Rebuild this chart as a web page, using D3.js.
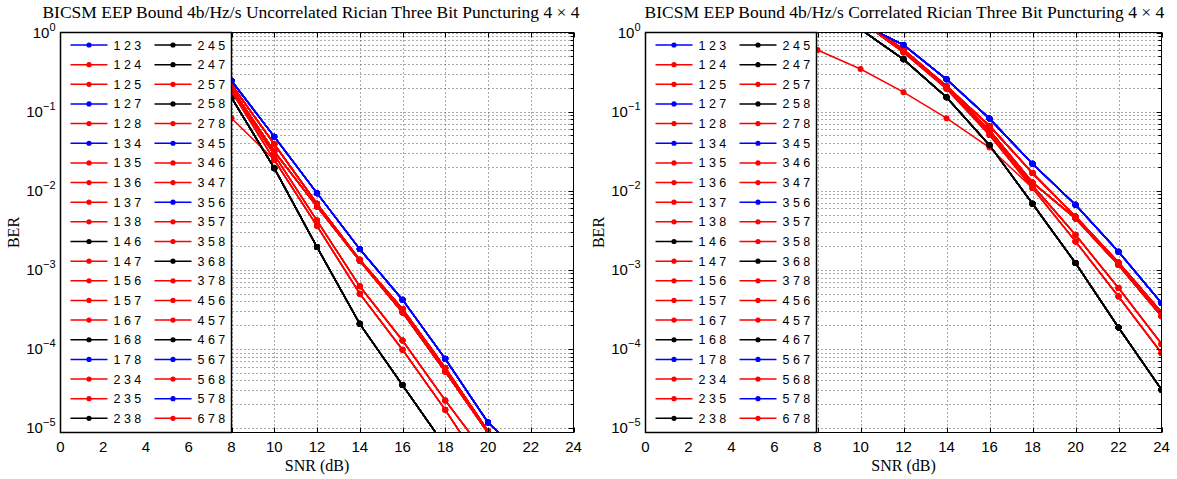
<!DOCTYPE html>
<html>
<head>
<meta charset="utf-8">
<script src="https://cdn.jsdelivr.net/npm/d3@7"></script>
<style>
  body { margin: 0; background: #fff; }
  svg { display: block; }
</style>
</head>
<body>
<div id="chart"></div>
<script>
// SNR points (dB)
var snr = [8, 10, 12, 14, 16, 18, 20, 22, 24];
var xTicks = [0, 2, 4, 6, 8, 10, 12, 14, 16, 18, 20, 22, 24];
var yDecades = [0, -1, -2, -3, -4, -5];

// uncorrelated rician - distinct curves
var uncBlue  = [0.246, 0.0483, 0.00933, 0.00183, 4.2e-4, 7.5e-5, 1.18e-5, 3.6e-6, null];
var uncRedA  = [0.22, 0.0388, 0.00684, 0.00134, 3.2e-4, 5.75e-5, 9.2e-6, 2e-6, null];
var uncRedB  = [0.20, 0.0313, 0.0063, 0.0013, 2.9e-4, 5.2e-5, 8.7e-6, 2e-6, null];
var uncRedC  = [0.19, 0.0284, 0.0042, 6.2e-4, 1.28e-4, 2.24e-5, 4.3e-6, null, null];
var uncRedD  = [0.18, 0.0245, 0.0036, 5.0e-4, 9.8e-5, 1.7e-5, 2.6e-6, null, null];
var uncRedE  = [0.0826, 0.0245, 0.0036, 5.0e-4, 9.8e-5, 1.7e-5, 2.6e-6, null, null];
var uncBlack = [0.150, 0.0193, 0.00194, 2.08e-4, 3.5e-5, 5.9e-6, null, null, null];

// correlated rician
var corBlue  = [3.5, 1.3, 0.695, 0.256, 0.0816, 0.0219, 0.00664, 0.0017, 3.8e-4];
var corRedA  = [3.2, 1.5, 0.61, 0.21, 0.066, 0.0167, 0.00473, 0.00124, 2.9e-4];
var corRedB  = [3.1, 1.45, 0.58, 0.205, 0.058, 0.0127, 0.00447, 0.00115, 2.6e-4];
var corRedC  = [3.0, 1.4, 0.57, 0.2, 0.055, 0.01164, 0.00277, 5.9e-4, 1.16e-4];
var corRedD  = [2.9, 1.4, 0.56, 0.195, 0.0507, 0.0108, 0.00229, 4.6e-4, 8.9e-5];
var corRedE  = [0.6, 0.346, 0.176, 0.0826, 0.0351, 0.0108, 0.00229, 4.6e-4, 8.9e-5];
var corBlack = [2.5, 1.1, 0.458, 0.152, 0.0377, 0.00684, 0.00122, 1.87e-4, 3.06e-5];

// puncturing patterns, in legend order
var patterns = ["123","124","125","127","128","134","135","136","137","138",
                "146","147","156","157","167","168","178","234","235","238",
                "245","247","257","258","278","345","346","347","356","357",
                "358","368","378","456","457","467","567","568","578","678"];
var bluePatterns  = ["123","127","134","178","345","356","567","578"];
var blackPatterns = ["146","168","238","245","247","258","368","467"];
var redGroupA = ["124","125","128","135","346","347","357","358"];
var redGroupB = ["136","137","138","147","156","157","167","568"];
var redGroupC = ["234","235","378","456"];
var redGroupD = ["257","457","678"];
var redGroupE = ["278"];

var panels = [
  { title: "BICSM EEP Bound 4b/Hz/s Uncorrelated Rician Three Bit Puncturing 4 \u00d7 4",
    left: 60.5, right: 573.5, titleShift: -6,
    curves: { blue: uncBlue, black: uncBlack, A: uncRedA, B: uncRedB, C: uncRedC, D: uncRedD, E: uncRedE } },
  { title: "BICSM EEP Bound 4b/Hz/s Correlated Rician Three Bit Puncturing 4 \u00d7 4",
    left: 645.5, right: 1161.5, titleShift: 1,
    curves: { blue: corBlue, black: corBlack, A: corRedA, B: corRedB, C: corRedC, D: corRedD, E: corRedE } }
];

var W = 1177, H = 479;
var plotTop = 32.5, plotBottom = 432.5;

function groupOf(p) {
  if (bluePatterns.indexOf(p) >= 0) return "blue";
  if (blackPatterns.indexOf(p) >= 0) return "black";
  if (redGroupA.indexOf(p) >= 0) return "A";
  if (redGroupB.indexOf(p) >= 0) return "B";
  if (redGroupC.indexOf(p) >= 0) return "C";
  if (redGroupD.indexOf(p) >= 0) return "D";
  return "E";
}
function colorOf(p) {
  var g = groupOf(p);
  if (g == "blue") return "#0000ff";
  if (g == "black") return "#000000";
  return "#ff0000";
}

var svg = d3.select("#chart").append("svg")
  .attr("width", W).attr("height", H);
svg.append("rect").attr("width", W).attr("height", H).attr("fill", "#fff");

panels.forEach(function (panel, pi) {
  var x = d3.scaleLinear().domain([0, 24]).range([panel.left, panel.right]);
  var y = d3.scaleLog().domain([8.8e-6, 1]).range([plotBottom, plotTop]);
  var g = svg.append("g");

  var clipId = "clip" + pi;
  svg.append("clipPath").attr("id", clipId).append("rect")
    .attr("x", panel.left).attr("y", plotTop)
    .attr("width", panel.right - panel.left).attr("height", plotBottom - plotTop);

  // grid
  var minorVals = [];
  for (var e = -6; e <= 0; e++) {
    for (var m = 1; m <= 9; m++) {
      var v = m * Math.pow(10, e);
      if (v >= 8.8e-6 && v <= 1) minorVals.push(v);
    }
  }
  g.selectAll(".hgrid").data(minorVals).enter().append("line")
    .attr("x1", panel.left).attr("x2", panel.right)
    .attr("y1", function (d) { return Math.round(y(d)) + 0.5; })
    .attr("y2", function (d) { return Math.round(y(d)) + 0.5; })
    .attr("stroke", "#555").attr("stroke-width", 1)
    .attr("stroke-dasharray", "1,3");
  g.selectAll(".vgrid").data(xTicks.slice(1, -1)).enter().append("line")
    .attr("x1", function (d) { return Math.round(x(d)) + 0.5; })
    .attr("x2", function (d) { return Math.round(x(d)) + 0.5; })
    .attr("y1", plotTop).attr("y2", plotBottom)
    .attr("stroke", "#555").attr("stroke-width", 1)
    .attr("stroke-dasharray", "1,3");

  // curves
  var line = d3.line()
    .defined(function (d) { return d[1] != null; })
    .x(function (d) { return x(d[0]); })
    .y(function (d) { return y(d[1]); });

  var plotG = g.append("g").attr("clip-path", "url(#" + clipId + ")");
  patterns.forEach(function (p) {
    var vals = panel.curves[groupOf(p)];
    var pts = snr.map(function (s, i) { return [s, vals[i]]; });
    plotG.append("path").datum(pts)
      .attr("d", line)
      .attr("fill", "none")
      .attr("stroke", colorOf(p))
      .attr("stroke-width", 1.5);
    plotG.selectAll(null).data(pts.filter(function (d) { return d[1] != null; }))
      .enter().append("circle")
      .attr("cx", function (d) { return x(d[0]); })
      .attr("cy", function (d) { return y(d[1]); })
      .attr("r", 3)
      .attr("fill", colorOf(p));
  });

  // ticks (inside, all four sides)
  var tk = g.append("g").attr("stroke", "#000").attr("stroke-width", 1);
  xTicks.forEach(function (t) {
    var xx = Math.round(x(t)) + 0.5;
    tk.append("line").attr("x1", xx).attr("x2", xx).attr("y1", plotBottom).attr("y2", plotBottom - 5);
    tk.append("line").attr("x1", xx).attr("x2", xx).attr("y1", plotTop).attr("y2", plotTop + 5);
  });
  minorVals.forEach(function (v) {
    var yy = Math.round(y(v)) + 0.5;
    var major = Math.abs(Math.log10(v) - Math.round(Math.log10(v))) < 1e-9;
    var len = major ? 5 : 3;
    tk.append("line").attr("x1", panel.left).attr("x2", panel.left + len).attr("y1", yy).attr("y2", yy);
    tk.append("line").attr("x1", panel.right).attr("x2", panel.right - len).attr("y1", yy).attr("y2", yy);
  });

  // frame
  g.append("rect")
    .attr("x", panel.left).attr("y", plotTop)
    .attr("width", panel.right - panel.left).attr("height", plotBottom - plotTop)
    .attr("fill", "none").attr("stroke", "#000").attr("stroke-width", 1);

  // tick labels
  g.selectAll(".xl").data(xTicks).enter().append("text")
    .attr("x", function (d) { return x(d); })
    .attr("y", 452)
    .attr("text-anchor", "middle")
    .attr("font-family", "Liberation Sans, Arial, sans-serif")
    .attr("font-size", 15)
    .text(function (d) { return d; });

  yDecades.forEach(function (k) {
    var t = g.append("text")
      .attr("x", panel.left - 5)
      .attr("y", y(Math.pow(10, k)) + 5)
      .attr("text-anchor", "end")
      .attr("font-family", "Liberation Sans, Arial, sans-serif")
      .attr("font-size", 15);
    t.append("tspan").text("10");
    t.append("tspan").attr("dy", -7).attr("font-size", 11)
      .text(k == 0 ? "0" : "\u2212" + (-k));
  });

  // labels
  g.append("text")
    .attr("x", (panel.left + panel.right) / 2 + panel.titleShift)
    .attr("y", 18)
    .attr("text-anchor", "middle")
    .attr("font-family", "Liberation Serif, Times New Roman, serif")
    .attr("font-size", 17.5)
    .text(panel.title);
  g.append("text")
    .attr("x", (panel.left + panel.right) / 2)
    .attr("y", 471)
    .attr("text-anchor", "middle")
    .attr("font-family", "Liberation Serif, Times New Roman, serif")
    .attr("font-size", 16)
    .text("SNR (dB)");
  g.append("text")
    .attr("transform", "translate(" + (panel.left - 42) + "," + ((plotTop + plotBottom) / 2) + ") rotate(-90)")
    .attr("text-anchor", "middle")
    .attr("font-family", "Liberation Serif, Times New Roman, serif")
    .attr("font-size", 16)
    .text("BER");

  // legend
  var lg = g.append("g").attr("transform", "translate(" + panel.left + "," + plotTop + ")");
  lg.append("rect")
    .attr("x", 0).attr("y", 0)
    .attr("width", 171).attr("height", plotBottom - plotTop)
    .attr("fill", "#fff").attr("stroke", "#000").attr("stroke-width", 1.5);
  var rows = patterns.length / 2;
  patterns.forEach(function (p, i) {
    var col = Math.floor(i / rows), row = i % rows;
    var ox = col * 84, oy = 12.5 + row * 19.65;
    lg.append("line")
      .attr("x1", ox + 10).attr("x2", ox + 47)
      .attr("y1", oy).attr("y2", oy)
      .attr("stroke", colorOf(p)).attr("stroke-width", 1.5);
    lg.append("circle")
      .attr("cx", ox + 28.5).attr("cy", oy).attr("r", 2.6)
      .attr("fill", colorOf(p));
    lg.append("text")
      .attr("x", ox + 53).attr("y", oy + 4.5)
      .attr("font-family", "Liberation Sans, Arial, sans-serif")
      .attr("font-size", 12.5)
      .text(p.split("").join(" "));
  });
});
</script>
</body>
</html>
